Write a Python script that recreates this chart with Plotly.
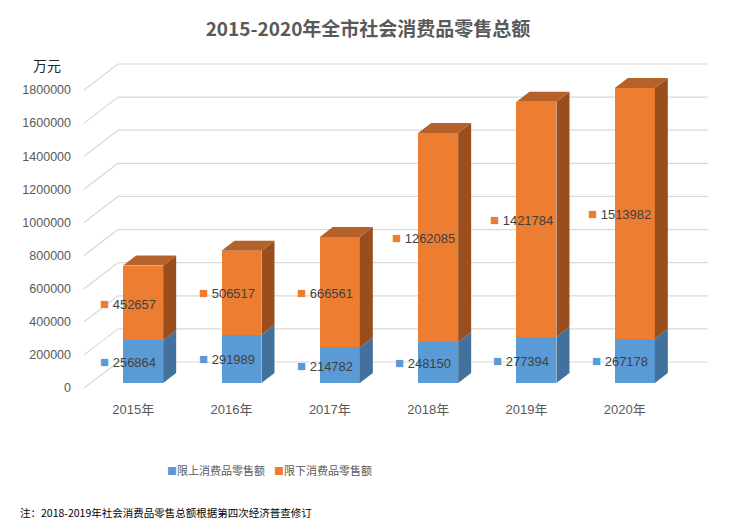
import plotly.graph_objects as go

# ---------------- data ----------------
years = ["2015年", "2016年", "2017年", "2018年", "2019年", "2020年"]
above_quota = [256864, 291989, 214782, 248150, 277394, 267178]      # 限上
below_quota = [452657, 506517, 666561, 1262085, 1421784, 1513982]   # 限下
y_ticks = [0, 200000, 400000, 600000, 800000, 1000000, 1200000, 1400000, 1600000, 1800000]
series_names = ["限上消费品零售额", "限下消费品零售额"]

# ---------------- style / geometry constants ----------------
OFF = 8                                  # page body margin of the html page
W, H = 738 - OFF, 524 - OFF
# plot area measured in page px (converted to figure px with -OFF)
L, R, T, B = 80, 715, 60, 395
X0_PX, CAT_PX = 84, 98.33              # page px of category -0.5 and px per category
Y0_PX, VAL_PX = 388, 298 / 1800000     # page px of value 0 and px per unit

def dxu(px):  # px -> category units
    return px / CAT_PX

def dyu(px):  # px -> value units
    return px / VAL_PX

x_range = [-0.5 + (L - X0_PX) / CAT_PX, -0.5 + (R - X0_PX) / CAT_PX]
y_range = [-(B - Y0_PX) / VAL_PX, (Y0_PX - T) / VAL_PX]

WALL_DX, WALL_DY = dxu(34), dyu(26)     # back wall depth
BAR_SHIFT_X, BAR_SHIFT_Y = dxu(10), dyu(5)
BAR_W = dxu(40)
BAR_DX, BAR_DY = dxu(13), dyu(10)
LABEL_OFF = dxu(15)

BLUE, BLUE_SIDE = "#5B9BD5", "#41719C"
ORANGE, ORANGE_TOP, ORANGE_SIDE = "#ED7D31", "#B5612A", "#9A4E1D"
SERIES_COLORS = [BLUE, ORANGE]
GRID = "#D9D9D9"
FONT_NUM = "Liberation Sans, Noto Sans CJK SC, sans-serif"
FONT_CJK = "Noto Sans CJK SC, sans-serif"

def paper_x(px):
    return (px - L) / (R - L)

def paper_y(px):
    return (B - px) / (B - T)

fig = go.Figure()

# back-wall gridlines with side-wall diagonals (below the traces)
shapes = []
for v in y_ticks:
    shapes.append(dict(type="line", xref="x", yref="y", layer="below",
                       x0=-0.5, y0=v, x1=-0.5 + WALL_DX, y1=v + WALL_DY,
                       line=dict(color=GRID, width=1.2)))
    shapes.append(dict(type="line", xref="x", yref="y", layer="below",
                       x0=-0.5 + WALL_DX, y0=v + WALL_DY, x1=5.5 + WALL_DX, y1=v + WALL_DY,
                       line=dict(color=GRID, width=1.2)))

cats = list(range(len(years)))
xc = [i + BAR_SHIFT_X for i in cats]

def side_polys(lo, hi):
    xs, ys = [], []
    for c, a, b in zip(xc, lo, hi):
        xr = c + BAR_W / 2
        xs += [xr, xr + BAR_DX, xr + BAR_DX, xr, xr, None]
        ys += [a, a + BAR_DY, b + BAR_DY, b, a, None]
    return xs, ys

def top_polys(top):
    xs, ys = [], []
    for c, t in zip(xc, top):
        xl, xr = c - BAR_W / 2, c + BAR_W / 2
        xs += [xl, xl + BAR_DX, xr + BAR_DX, xr, xl, None]
        ys += [t, t + BAR_DY, t + BAR_DY, t, t, None]
    return xs, ys

blue_lo = [BAR_SHIFT_Y] * len(years)
blue_hi = [BAR_SHIFT_Y + a for a in above_quota]
orange_hi = [h + b for h, b in zip(blue_hi, below_quota)]

# front faces
fig.add_trace(go.Bar(x=xc, y=above_quota, base=blue_lo, width=BAR_W, name=series_names[0],
                     marker=dict(color=BLUE, line=dict(width=0)), showlegend=False))
fig.add_trace(go.Bar(x=xc, y=below_quota, base=blue_hi, width=BAR_W, name=series_names[1],
                     marker=dict(color=ORANGE, line=dict(width=0)), showlegend=False))

# side and top faces
for (lo, hi, col) in [(blue_lo, blue_hi, BLUE_SIDE), (blue_hi, orange_hi, ORANGE_SIDE)]:
    sx, sy = side_polys(lo, hi)
    fig.add_trace(go.Scatter(x=sx, y=sy, mode="lines", fill="toself", fillcolor=col,
                             line=dict(width=0, color=col), hoverinfo="skip", showlegend=False))
tx, ty = top_polys(orange_hi)
fig.add_trace(go.Scatter(x=tx, y=ty, mode="lines", fill="toself", fillcolor=ORANGE_TOP,
                         line=dict(width=0, color=ORANGE_TOP), hoverinfo="skip", showlegend=False))

# data labels
annotations = []
for i in cats:
    for lo, val, col in [(blue_lo[i], above_quota[i], BLUE), (blue_hi[i], below_quota[i], ORANGE)]:
        annotations.append(dict(
            x=xc[i] - LABEL_OFF, y=lo + val / 2, xref="x", yref="y",
            text=f'<span style="color:{col};font-size:15px">■</span> {val}',
            showarrow=False, xanchor="center", yanchor="middle",
            font=dict(family=FONT_NUM, size=13, color="#404040")))

# legend (square key + name)
legend_x_px = [165, 272]
for name, col, lx in zip(series_names, SERIES_COLORS, legend_x_px):
    annotations.append(dict(
        x=paper_x(lx), y=paper_y(470), xref="paper", yref="paper",
        text=f'<span style="color:{col};font-size:10px">■</span>{name}',
        showarrow=False, xanchor="left", yanchor="middle",
        font=dict(family=FONT_CJK, size=11, color="#595959")))

annotations.append(dict(x=paper_x(47), y=paper_y(65), xref="paper", yref="paper", text="万元",
                        showarrow=False, xanchor="center", yanchor="middle",
                        font=dict(family=FONT_CJK, size=14, color="#262626")))
annotations.append(dict(x=paper_x(18), y=paper_y(513), xref="paper", yref="paper",
                        text="注：2018-2019年社会消费品零售总额根据第四次经济普查修订",
                        showarrow=False, xanchor="left", yanchor="middle",
                        font=dict(family=FONT_CJK, size=10.5, color="#000000")))

fig.update_layout(
    width=W, height=H,
    margin=dict(l=L - OFF, r=W - (R - OFF), t=T - OFF, b=H - (B - OFF), autoexpand=False),
    paper_bgcolor="white", plot_bgcolor="white",
    barmode="overlay", bargap=0,
    shapes=shapes,
    title=dict(text="<b>2015-2020年全市社会消费品零售总额</b>", x=(368 - OFF) / W,
               y=1 - (29 - OFF) / H,
               xref="container", yref="container", xanchor="center", yanchor="middle",
               font=dict(family=FONT_CJK, size=19, color="#595959")),
    xaxis=dict(range=x_range, tickvals=cats, ticktext=years, showgrid=False, zeroline=False,
               showline=False, ticks="", tickangle=0, automargin=False, ticklabelstandoff=5,
               tickfont=dict(family=FONT_NUM, size=13, color="#595959"), fixedrange=True),
    yaxis=dict(range=y_range, tickvals=y_ticks, ticktext=[str(v) for v in y_ticks],
               showgrid=False, zeroline=False, showline=False, ticks="", ticklabelstandoff=8,
               automargin=False,
               tickfont=dict(family=FONT_NUM, size=12.5, color="#595959"), fixedrange=True),
    annotations=annotations,
    showlegend=False,
)

fig.write_html("out.html")
